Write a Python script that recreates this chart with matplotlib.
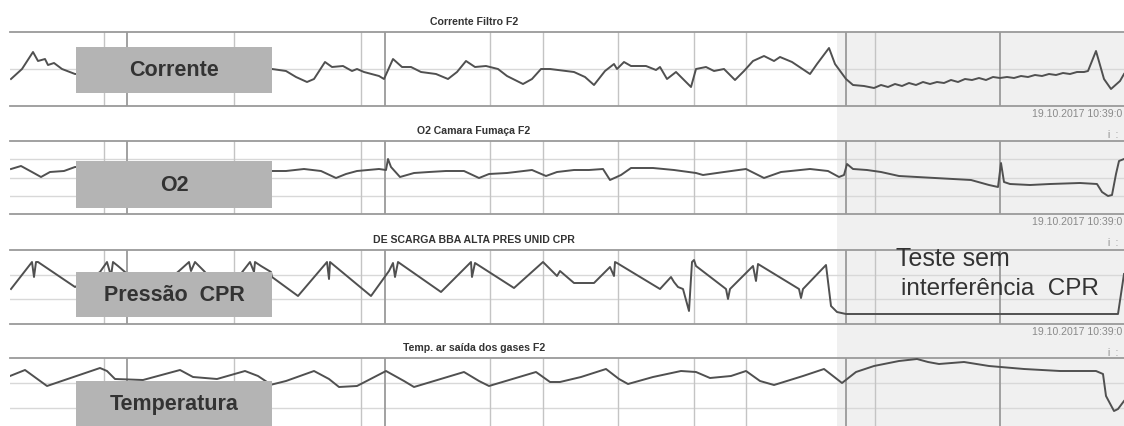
import matplotlib.pyplot as plt
from matplotlib.patches import Rectangle

plt.rcParams['font.family'] = ['Liberation Sans', 'DejaVu Sans']

'''------------------------------------DATA (read from the trend screenshot)-----------------------------------'''

# time axis position of each sample (screen units), value = height above panel bottom
corrente_t = [11, 22, 33, 38, 45, 48, 54, 62, 75, 272, 286, 296, 307, 314, 325, 332, 343, 352, 357, 364,
              379, 384, 393, 402, 411, 421, 436, 448, 457, 466, 475, 486, 498, 507, 523, 532, 541, 550,
              574, 585, 594, 605, 614, 617, 624, 631, 646, 656, 660, 667, 676, 683, 691, 696, 706, 714,
              724, 735, 744, 753, 764, 774, 780, 792, 810, 817, 829, 835, 846, 853, 864, 874, 881, 888,
              895, 902, 909, 916, 923, 930, 937, 944, 951, 958, 965, 972, 979, 986, 993, 1000, 1007,
              1014, 1021, 1028, 1035, 1042, 1049, 1056, 1063, 1070, 1077, 1084, 1088, 1096, 1104, 1111,
              1120, 1124]
corrente_v = [27, 37, 54, 45, 47, 41, 43, 37, 32, 37, 35, 29, 24, 27, 44, 39, 40, 35, 37, 34,
              30, 27, 47, 39, 39, 34, 32, 27, 34, 45, 39, 40, 37, 30, 22, 27, 37, 37,
              34, 29, 21, 35, 42, 37, 44, 40, 40, 36, 39, 27, 34, 27, 19, 37, 39, 35,
              37, 26, 35, 45, 50, 45, 49, 44, 32, 42, 58, 42, 27, 21, 20, 18, 21, 19,
              22, 20, 23, 21, 24, 22, 24, 23, 26, 24, 27, 26, 28, 26, 29, 28, 29,
              28, 30, 29, 31, 30, 32, 31, 33, 32, 34, 34, 35, 55, 27, 17,
              25, 32]

o2_t = [11, 21, 32, 41, 50, 64, 75, 272, 286, 304, 321, 336, 346, 357, 379, 386, 388, 391, 400, 414,
        429, 446, 464, 479, 489, 507, 532, 546, 557, 574, 589, 603, 610, 621, 631, 653, 674, 696, 703,
        724, 746, 764, 781, 810, 828, 839, 844, 847, 853, 867, 881, 899, 917, 935, 953, 971, 989, 998,
        1001, 1004, 1010, 1030, 1050, 1080, 1097, 1102, 1108, 1112, 1116, 1119, 1124]
o2_v = [45, 48, 42, 37, 42, 43, 47, 43, 43, 45, 43, 36, 40, 43, 45, 44, 55, 47, 37, 41,
        42, 43, 43, 36, 40, 41, 44, 38, 42, 44, 44, 45, 34, 39, 46, 46, 44, 41, 39,
        42, 45, 36, 42, 45, 43, 37, 39, 50, 45, 44, 42, 38, 37, 36, 35, 34, 29, 27,
        51, 32, 30, 29, 30, 31, 30, 22, 18, 19, 40, 53, 55]

pressao_t = [11, 32, 34, 36, 38, 75, 100, 107, 111, 113, 118, 125, 150, 179, 189, 191, 195, 204, 225,
             243, 250, 254, 255, 261, 271, 272, 298, 327, 329, 330, 371, 389, 393, 395, 398, 441, 471,
             472, 475, 514, 543, 557, 560, 574, 594, 610, 614, 615, 617, 660, 671, 674, 678, 683, 689,
             692, 694, 696, 726, 728, 730, 753, 756, 758, 799, 801, 803, 826, 831, 837, 846, 1118, 1124]
pressao_v = [35, 62, 47, 62, 62, 37, 52, 62, 48, 62, 58, 52, 28, 53, 62, 53, 62, 53, 30,
             53, 62, 52, 62, 58, 52, 47, 28, 62, 45, 62, 28, 53, 61, 47, 62, 32, 62,
             47, 61, 36, 62, 48, 53, 41, 41, 57, 48, 62, 61, 35, 47, 42, 37, 35, 13,
             62, 64, 58, 35, 25, 35, 58, 43, 60, 35, 26, 35, 59, 18, 12, 10, 10, 50]

temp_t = [10, 25, 47, 100, 107, 115, 143, 180, 193, 217, 245, 258, 267, 270, 286, 300, 314, 329, 339,
          357, 386, 404, 414, 464, 479, 489, 536, 543, 550, 560, 581, 606, 619, 628, 653, 681, 696,
          710, 731, 746, 760, 774, 803, 824, 842, 856, 874, 899, 917, 928, 939, 964, 989, 1024, 1060,
          1096, 1103, 1106, 1114, 1118, 1124]
temp_v = [57, 63, 47, 65, 62, 54, 53, 63, 56, 54, 62, 57, 51, 48, 52, 57, 62, 54, 46,
          47, 62, 52, 46, 61, 52, 47, 61, 56, 51, 51, 56, 64, 54, 49, 56, 62, 61,
          55, 57, 62, 52, 48, 57, 64, 50, 61, 67, 72, 74, 71, 69, 71, 67, 64, 62,
          62, 59, 37, 22, 24, 32]

titles = ['Corrente Filtro F2', 'O2 Camara Fumaça F2', 'DE SCARGA BBA ALTA PRES UNID CPR',
          'Temp. ar saída dos gases F2']
labels = ['Corrente', 'O2', 'Pressão  CPR', 'Temperatura']
stamp = '19.10.2017 10:39:0'

major_t = [127, 385, 846, 1000]
minor_t = [104, 234, 361, 490, 543, 618, 694, 746, 875]

'''------------------------------------LAYOUT (pixels)--------------------------------------------------------'''

W, H = 1124, 427
panels = [(33, 107, 74, [37]), (142, 215, 73, [18, 36, 55]), (251, 325, 74, [25, 49]),
          (359, 434, 75, [25, 50])]
boxes = [(48, 94), (162, 209), (273, 318), (382, 440)]
series = [(corrente_t, corrente_v), (o2_t, o2_v), (pressao_t, pressao_v), (temp_t, temp_v)]


def fx(px):
    return px / W


def fy(py):
    return 1 - py / H


fig = plt.figure(figsize=(W / 100, H / 100), dpi=100)

# shaded test window (background, behind the panels)
fig.add_artist(Rectangle((fx(837), fy(H)), fx(W - 837), fy(33) - fy(H), transform=fig.transFigure,
                         facecolor='#f0f0f0', edgecolor='none', zorder=-5))

for i, (top, bot, rng, hlines) in enumerate(panels):
    ax = fig.add_axes([fx(10), fy(bot), fx(W - 10), (bot - top) / H])
    ax.set_facecolor('none')
    ax.set_xlim(10, W)
    ax.set_ylim(0, rng)
    for yv in hlines:
        ax.axhline(yv, color='#d8d8d8', lw=1.0, zorder=1)
    for xv in minor_t:
        ax.axvline(xv, color='#c4c4c4', lw=1.0, zorder=1)
    for xv in major_t:
        ax.axvline(xv, color='#9a9a9a', lw=1.3, zorder=1)
    t, v = series[i]
    ax.plot(t, v, color='#505050', lw=1.4, zorder=3)
    ax.set_xticks([])
    ax.set_yticks([])
    for s in ['left', 'right']:
        ax.spines[s].set_visible(False)
    for s in ['top', 'bottom']:
        ax.spines[s].set_color('#9a9a9a')
        ax.spines[s].set_linewidth(1.3)

    fig.text(fx(474), fy(top - 11), titles[i], ha='center', va='center', fontsize=7.6,
             fontweight='bold', color='#333333')
    if i < 3:
        fig.text(fx(1122), fy(bot + 7), stamp, ha='right', va='center', fontsize=7.6, color='#8a8a8a')
        fig.text(fx(1108), fy(bot + 28), 'i  :', ha='left', va='center', fontsize=7, color='#8a8a8a')

    b0, b1 = boxes[i]
    fig.add_artist(Rectangle((fx(76), fy(b1)), fx(196), fy(b0) - fy(b1), transform=fig.transFigure,
                             facecolor='#b4b4b4', edgecolor='none', zorder=5))
    fig.text(fx(174), fy((b0 + min(b1, 428)) / 2), labels[i], ha='center', va='center', fontsize=15.5,
             fontweight='bold', color='#333333', zorder=6)

fig.text(fx(896), fy(259), 'Teste sem', ha='left', va='center', fontsize=18, color='#333333')
fig.text(fx(901), fy(289), 'interferência  CPR', ha='left', va='center', fontsize=17.5, color='#333333')

fig.savefig('out.png', dpi=100)
